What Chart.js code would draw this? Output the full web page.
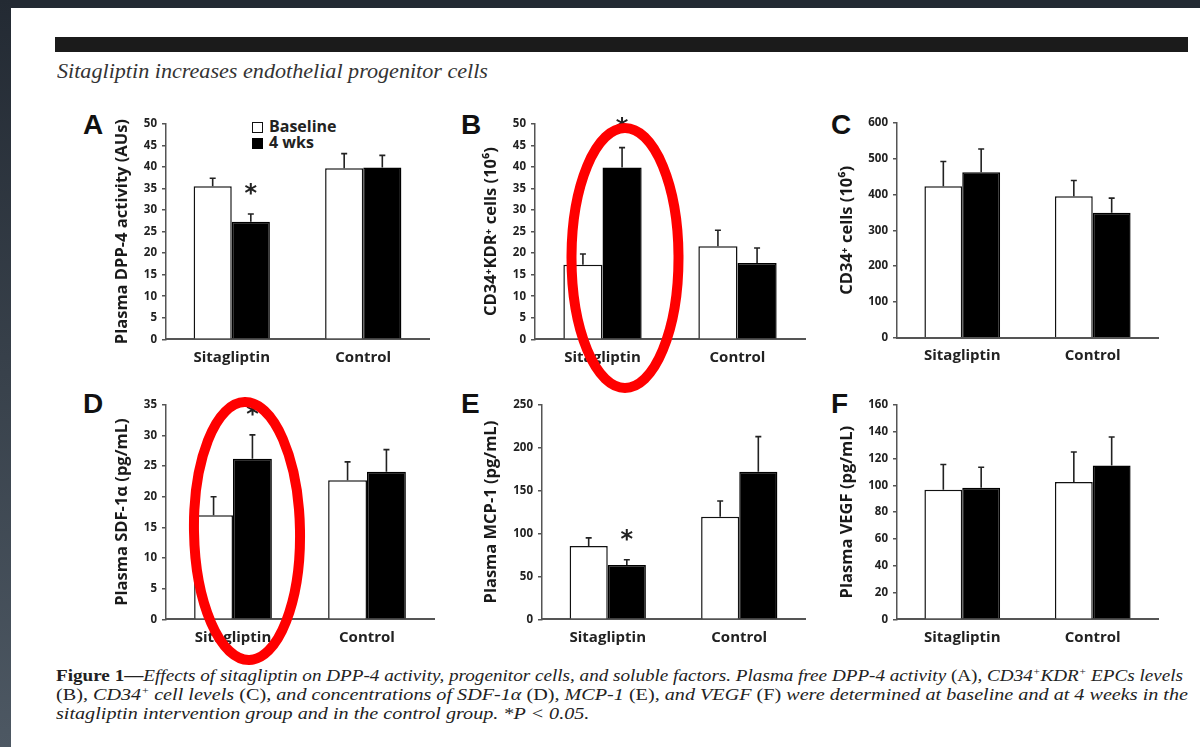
<!DOCTYPE html>
<html>
<head>
<meta charset="utf-8">
<script src="https://cdn.jsdelivr.net/npm/chart.js@4.4.1/dist/chart.umd.min.js"></script>
<style>
  html, body { margin: 0; padding: 0; }
  body { width: 1200px; height: 747px; position: relative; overflow: hidden; background: #fff; font-family: 'Open Sans', sans-serif; }
  #topband { position: absolute; left: 0; top: 0; width: 1200px; height: 8px; background: #232a33; }
  #leftband { position: absolute; left: 0; top: 0; width: 11px; height: 747px; background: linear-gradient(#232a33, #4d5863); }
  #rule { position: absolute; left: 55px; top: 37px; width: 1133px; height: 15px; background: #1b1b1b; }
  .fit { position: absolute; white-space: nowrap; transform-origin: 0 0; font-family: 'Liberation Serif', serif; color: #222; }
  #heading { left: 57px; top: 61px; font-size: 20px; line-height: 20px; font-style: italic; color: #333; }
  .cap { left: 56px; font-size: 17px; line-height: 17px; font-style: italic; }
  .cap b { font-style: normal; }
  .cap .up { font-style: normal; }
  .cap sup { font-size: 10px; vertical-align: 6px; line-height: 0; }
  .letter { position: absolute; font-family: 'Liberation Sans', Arial, sans-serif; font-weight: bold; font-size: 28px; line-height: 28px; color: #111; }
  .leg { position: absolute; font-weight: bold; font-size: 16px; line-height: 16px; color: #222; }
  .box { position: absolute; width: 11px; height: 11px; box-sizing: border-box; }
  canvas { position: absolute; }
  #marks { position: absolute; left: 0; top: 0; z-index: 5; }
</style>
</head>
<body>
<div id="topband"></div>
<div id="leftband"></div>
<div id="rule"></div>
<div id="heading" class="fit">Sitagliptin increases endothelial progenitor cells</div>

<div class="letter" style="left:83px;top:111px">A</div>
<div class="letter" style="left:461px;top:111px">B</div>
<div class="letter" style="left:831px;top:111px">C</div>
<div class="letter" style="left:83px;top:390px">D</div>
<div class="letter" style="left:461px;top:390px">E</div>
<div class="letter" style="left:831px;top:390px">F</div>

<div class="box" style="left:252px;top:122px;border:1.5px solid #111;background:#fff"></div>
<div class="leg" id="leg0" style="left:269px;top:118px"></div>
<div class="box" style="left:252px;top:138px;background:#000"></div>
<div class="leg" id="leg1" style="left:269px;top:134px"></div>

<div id="cap1" class="fit cap" style="top:667px"><b>Figure 1—</b>Effects of sitagliptin on DPP-4 activity, progenitor cells, and soluble factors. Plasma free DPP-4 activity <span class="up">(A)</span>, CD34<sup>+</sup>KDR<sup>+</sup> EPCs levels</div>
<div id="cap2" class="fit cap" style="top:686px"><span class="up">(B)</span>, CD34<sup>+</sup> cell levels <span class="up">(C)</span>, and concentrations of SDF-1α <span class="up">(D)</span>, MCP-1 <span class="up">(E)</span>, and VEGF <span class="up">(F)</span> were determined at baseline and at 4 weeks in the</div>
<div id="cap3" class="fit cap" style="top:705px">sitagliptin intervention group and in the control group. *P &lt; 0.05.</div>

<svg id="marks" width="1200" height="747">
  <ellipse cx="625" cy="258" rx="53.5" ry="130" fill="none" stroke="#f00" stroke-width="10"/>
  <ellipse cx="247" cy="531" rx="53" ry="129" fill="none" stroke="#f00" stroke-width="10" transform="rotate(-1 247 531)"/>
</svg>

<script>
const categories = ['Sitagliptin', 'Control'];
const seriesNames = ['Baseline', '4 wks'];

// A: plasma DPP-4 activity (AUs)
const dppBase = [35.5, 39.7];
const dppBaseErr = [1.9, 3.4];
const dpp4wk = [27.3, 39.9];
const dpp4wkErr = [1.8, 2.8];
const dppTicks = [0, 50, 5];

// B: CD34+KDR+ cells (10^6)
const kdrBase = [17.3, 21.6];
const kdrBaseErr = [2.5, 3.7];
const kdr4wk = [39.9, 17.7];
const kdr4wkErr = [4.6, 3.5];
const kdrTicks = [0, 50, 5];

// C: CD34+ cells (10^6)
const cd34Base = [423, 395];
const cd34BaseErr = [69, 44];
const cd344wk = [462, 349];
const cd344wkErr = [65, 41];
const cd34Ticks = [0, 600, 100];

// D: plasma SDF-1a (pg/mL)
const sdfBase = [17.0, 22.7];
const sdfBaseErr = [3.0, 3.0];
const sdf4wk = [26.2, 24.1];
const sdf4wkErr = [3.9, 3.6];
const sdfTicks = [0, 35, 5];

// E: plasma MCP-1 (pg/mL)
const mcpBase = [85.6, 119.6];
const mcpBaseErr = [9.3, 18.4];
const mcp4wk = [63.2, 172];
const mcp4wkErr = [6.2, 41];
const mcpTicks = [0, 250, 50];

// F: plasma VEGF (pg/mL)
const vegfBase = [96.7, 102.4];
const vegfBaseErr = [18.8, 22.5];
const vegf4wk = [98.2, 114.8];
const vegf4wkErr = [15.3, 21.2];
const vegfTicks = [0, 160, 20];

// * P < 0.05 (4 wks vs baseline)
const noStar = [false, false];
const sitaStar = [true, false];

Chart.defaults.font.family = "'Open Sans', sans-serif";

const errorBars = {
  id: 'errorBars',
  afterDatasetsDraw(chart) {
    const { ctx } = chart;
    const y = chart.scales.y;
    ctx.save();
    chart.data.datasets.forEach((ds, i) => {
      chart.getDatasetMeta(i).data.forEach((bar, j) => {
        const top = y.getPixelForValue(ds.data[j] + ds.errors[j]);
        ctx.strokeStyle = '#222';
        ctx.lineWidth = 1.6;
        ctx.beginPath();
        ctx.moveTo(bar.x, bar.y);
        ctx.lineTo(bar.x, top);
        ctx.moveTo(bar.x - 3, top);
        ctx.lineTo(bar.x + 3, top);
        ctx.stroke();
        if (ds.stars[j]) {
          ctx.fillStyle = '#222';
          ctx.font = "bold 24px 'DejaVu Sans'";
          ctx.textAlign = 'center';
          ctx.textBaseline = 'middle';
          ctx.fillText('*', bar.x, top - 19);
        }
      });
    });
    ctx.restore();
  }
};

function makePanel(p) {
  const left = Math.floor(p.axis - p.gap - 10);
  const top = Math.floor(p.top - 10);
  const width = Math.ceil(p.right + 6 - left);
  const height = Math.ceil(p.bottom + 30 - top);
  const cv = document.createElement('canvas');
  cv.width = width;
  cv.height = height;
  cv.style.left = left + 'px';
  cv.style.top = top + 'px';
  document.body.appendChild(cv);
  const titleSize = 16.5;
  const titlePad = (p.axis - p.gap) - left - titleSize * 1.2 / 2;

  new Chart(cv, {
    type: 'bar',
    data: {
      labels: categories,
      datasets: [
        { label: seriesNames[0], data: p.base, errors: p.baseErr, stars: noStar,
          backgroundColor: '#fff', borderColor: '#111', borderWidth: 1.5 },
        { label: seriesNames[1], data: p.wk4, errors: p.wk4Err, stars: p.stars,
          backgroundColor: '#000', borderColor: '#000', borderWidth: 1.5 },
      ],
    },
    options: {
      responsive: false,
      animation: false,
      devicePixelRatio: 1,
      layout: { padding: { top: p.top - top, right: width - (p.right - left), left: 0, bottom: 0 } },
      plugins: { legend: { display: false }, tooltip: { enabled: false } },
      datasets: { bar: { barPercentage: 1, categoryPercentage: 0.58 } },
      scales: {
        x: {
          grid: { display: false, drawTicks: false },
          border: { color: '#555', width: 2 },
          ticks: { color: '#222', font: { size: 15, weight: 'bold' }, padding: 9 },
          afterFit(s) { s.height = height - (p.bottom - top); },
        },
        y: {
          min: p.ticks[0],
          max: p.ticks[1],
          ticks: { stepSize: p.ticks[2], color: '#222', font: { size: 11.5, weight: 'bold' }, padding: 5 },
          grid: { drawOnChartArea: false, drawTicks: true, tickLength: 4, color: '#555', lineWidth: 1.5 },
          border: { color: '#555', width: 1.5 },
          title: { display: true, text: p.title, color: '#1a1a1a',
            font: { size: titleSize, weight: 'bold' }, padding: { top: titlePad, bottom: 0 } },
          afterFit(s) { s.width = p.axis - left; },
        },
      },
    },
    plugins: [errorBars],
  });
}

makePanel({ title: 'Plasma DPP-4 activity (AUs)', base: dppBase, baseErr: dppBaseErr, wk4: dpp4wk, wk4Err: dpp4wkErr,
  stars: sitaStar, ticks: dppTicks, axis: 166, right: 429, top: 122.7, bottom: 339.3, gap: 43.5 });
makePanel({ title: 'CD34⁺KDR⁺ cells (10⁶)', base: kdrBase, baseErr: kdrBaseErr, wk4: kdr4wk, wk4Err: kdr4wkErr,
  stars: sitaStar, ticks: kdrTicks, axis: 535, right: 805, top: 122.7, bottom: 339.3, gap: 44 });
makePanel({ title: 'CD34⁺ cells (10⁶)', base: cd34Base, baseErr: cd34BaseErr, wk4: cd344wk, wk4Err: cd344wkErr,
  stars: noStar, ticks: cd34Ticks, axis: 897, right: 1158, top: 121, bottom: 337.7, gap: 50 });
makePanel({ title: 'Plasma SDF-1α (pg/mL)', base: sdfBase, baseErr: sdfBaseErr, wk4: sdf4wk, wk4Err: sdf4wkErr,
  stars: sitaStar, ticks: sdfTicks, axis: 166, right: 434, top: 403.3, bottom: 619.3, gap: 43.5 });
makePanel({ title: 'Plasma MCP-1 (pg/mL)', base: mcpBase, baseErr: mcpBaseErr, wk4: mcp4wk, wk4Err: mcp4wkErr,
  stars: sitaStar, ticks: mcpTicks, axis: 542, right: 805, top: 403.3, bottom: 619.3, gap: 51 });
makePanel({ title: 'Plasma VEGF (pg/mL)', base: vegfBase, baseErr: vegfBaseErr, wk4: vegf4wk, wk4Err: vegf4wkErr,
  stars: noStar, ticks: vegfTicks, axis: 897, right: 1158, top: 403.3, bottom: 619.3, gap: 50 });

document.getElementById('leg0').textContent = seriesNames[0];
document.getElementById('leg1').textContent = seriesNames[1];

function fit(id, target) {
  const el = document.getElementById(id);
  const k = target / el.getBoundingClientRect().width;
  el.style.transform = 'scaleX(' + k + ')';
  return k;
}
fit('heading', 431);
fit('cap1', 1127);
const k2 = fit('cap2', 1132);
document.getElementById('cap3').style.transform = 'scaleX(' + k2 + ')';
</script>
</body>
</html>
